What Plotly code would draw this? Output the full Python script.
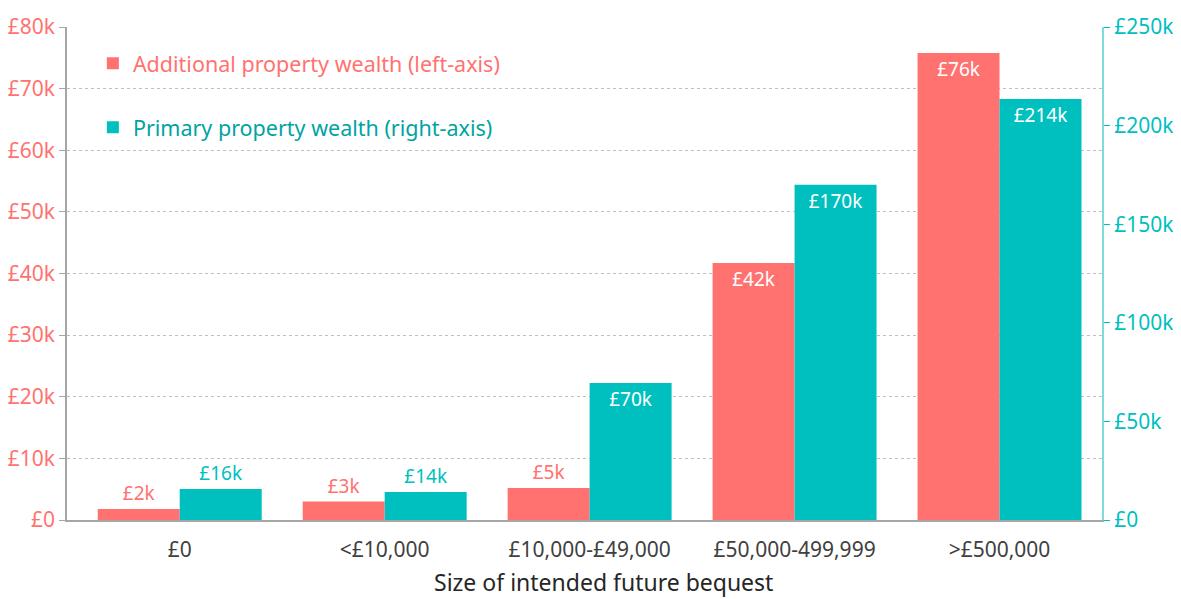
import plotly.graph_objects as go

categories = ["£0", "<£10,000", "£10,000-£49,000", "£50,000-499,999", ">£500,000"]
additional = [1800, 3000, 5200, 41700, 75800]
additional_labels = ["£2k", "£3k", "£5k", "£42k", "£76k"]
primary = [15700, 14200, 69500, 170000, 213500]
primary_labels = ["£16k", "£14k", "£70k", "£170k", "£214k"]
left_ticks = [0, 10000, 20000, 30000, 40000, 50000, 60000, 70000, 80000]
left_tick_text = ["£0", "£10k", "£20k", "£30k", "£40k", "£50k", "£60k", "£70k", "£80k"]
right_ticks = [0, 50000, 100000, 150000, 200000, 250000]
right_tick_text = ["£0", "£50k", "£100k", "£150k", "£200k", "£250k"]
x_title = "Size of intended future bequest"

RED = "#FF7270"
TEAL = "#00BFBF"
TEAL_TEXT = "#00A3A3"
FONT = "Noto Sans"

def positions(vals, threshold):
    return ["inside" if v >= threshold else "outside" for v in vals]

fig = go.Figure()
fig.add_trace(go.Bar(
    x=categories, y=additional, name="Additional property wealth (left-axis)",
    marker=dict(color=RED, line=dict(width=0)),
    text=additional_labels, textposition=positions(additional, 20000),
    insidetextanchor="end", cliponaxis=False,
    insidetextfont=dict(color="white", size=19, family=FONT),
    outsidetextfont=dict(color=RED, size=19, family=FONT),
    offsetgroup="a", legendgroup="a", yaxis="y",
))
fig.add_trace(go.Bar(
    x=categories, y=primary,
    name="<span style='color:%s'>Primary property wealth (right-axis)</span>" % TEAL_TEXT,
    marker=dict(color=TEAL, line=dict(width=0)),
    text=primary_labels, textposition=positions(primary, 50000),
    insidetextanchor="end", cliponaxis=False,
    insidetextfont=dict(color="white", size=19, family=FONT),
    outsidetextfont=dict(color=TEAL, size=19, family=FONT),
    offsetgroup="b", legendgroup="b", yaxis="y2",
))

fig.update_layout(
    width=1173, height=591,
    margin=dict(l=59, r=79, t=19, b=79),
    paper_bgcolor="white", plot_bgcolor="white",
    font=dict(family=FONT, size=18, color="#404040"),
    barmode="group", bargap=0.2, bargroupgap=0,
    showlegend=True,
    legend=dict(x=0.025, y=0.968, xanchor="left", yanchor="top",
                bgcolor="rgba(0,0,0,0)", tracegroupgap=33,
                font=dict(size=21.5, family=FONT, color=RED),
                itemwidth=30),
    xaxis=dict(range=[-0.55, 4.5], showgrid=False, showline=True,
               linecolor="#A6A6A6", linewidth=2,
               ticks="outside", ticklen=10, tickcolor="rgba(0,0,0,0)",
               tickfont=dict(size=21, color="#404040"), automargin=False),
    yaxis=dict(range=[0, 80000], tickvals=left_ticks, ticktext=left_tick_text,
               showgrid=True, gridcolor="#BFBFBF", griddash="3px,3px", gridwidth=1,
               showline=True, linecolor="#A6A6A6", linewidth=1.5,
               ticks="outside", ticklen=6, tickcolor="#A6A6A6",
               tickfont=dict(size=21, color=RED), zeroline=False, automargin=False),
    yaxis2=dict(range=[0, 250000], tickvals=right_ticks, ticktext=right_tick_text,
                overlaying="y", side="right", showgrid=False,
                showline=True, linecolor="#7FDCDC", linewidth=2,
                ticks="outside", ticklen=6, tickcolor=TEAL,
                tickfont=dict(size=21, color=TEAL), zeroline=False, automargin=False),
    annotations=[dict(text=x_title, xref="paper", yref="paper",
                      x=0.518, y=-0.125, xanchor="center", yanchor="middle",
                      showarrow=False, font=dict(size=23, color="#262626", family=FONT))],
)

fig.write_html("out.html")
